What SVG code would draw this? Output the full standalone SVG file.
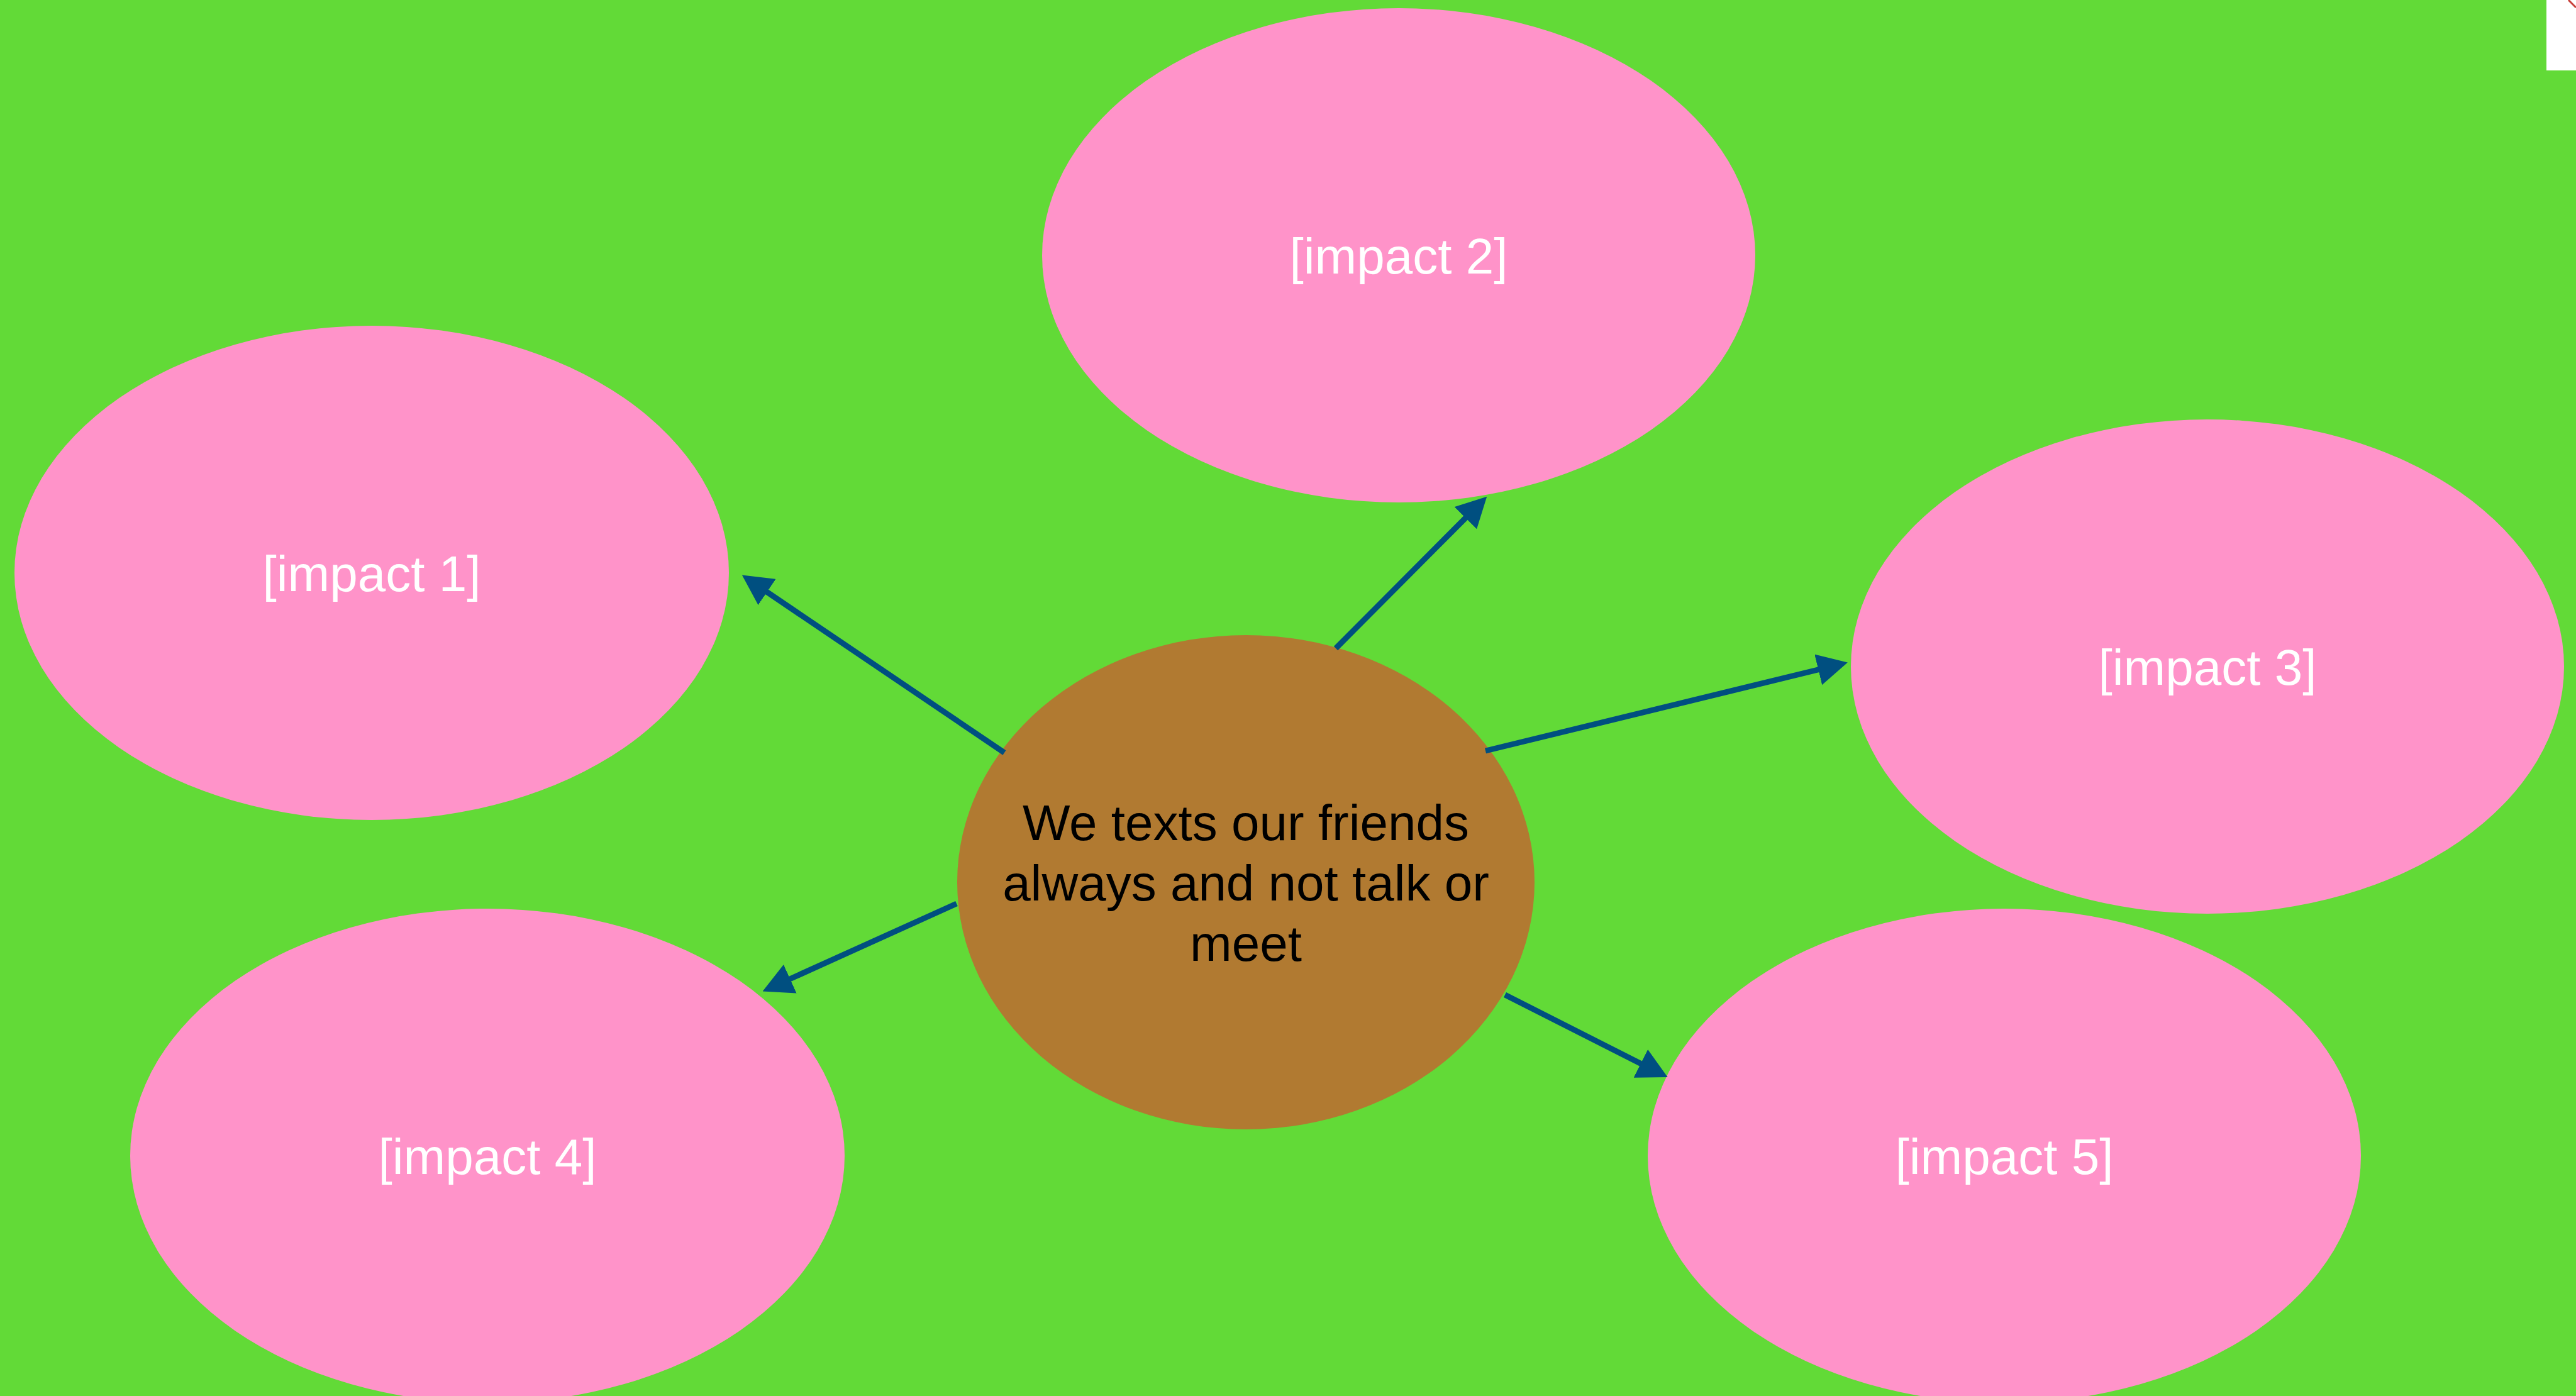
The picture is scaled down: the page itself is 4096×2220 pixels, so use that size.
<svg xmlns="http://www.w3.org/2000/svg" width="4096" height="2220" viewBox="0 0 4096 2220">
  <defs>
    <style>
      .impact { fill: #FF93C9; }
      .core { fill: #B17A31; }
      .lbl { font-family: "Liberation Sans", Arial, Helvetica, sans-serif; font-size: 80px; text-anchor: middle; }
      .white { fill: #FFFFFF; }
      .black { fill: #000000; }
      .conn { stroke: #004F80; stroke-width: 9; fill: none; marker-end: url(#arrow); }
    </style>
    <marker id="arrow" markerUnits="userSpaceOnUse" viewBox="0 0 48 50" markerWidth="48" markerHeight="50" refX="8" refY="25" orient="auto">
      <path d="M0,0 L48,25 L0,50 z" fill="#004F80"/>
    </marker>
  </defs>
  <rect x="0" y="0" width="4096" height="2220" fill="#62DA37"/>
  <rect x="4049" y="0" width="47" height="112" fill="#FFFFFF"/>
  <line x1="4084" y1="0" x2="4096" y2="12" stroke="#C8413C" stroke-width="3"/>

  <g id="impact2">
    <ellipse class="impact" cx="2224" cy="406" rx="567" ry="393"/>
    <text class="lbl white" x="2224" y="435">[impact 2]</text>
  </g>
  <g id="impact1">
    <ellipse class="impact" cx="591" cy="911" rx="568" ry="393"/>
    <text class="lbl white" x="591" y="940">[impact 1]</text>
  </g>
  <g id="impact3">
    <ellipse class="impact" cx="3510" cy="1060" rx="567" ry="393"/>
    <text class="lbl white" x="3510" y="1089">[impact 3]</text>
  </g>
  <g id="impact4">
    <ellipse class="impact" cx="775" cy="1838" rx="568" ry="393"/>
    <text class="lbl white" x="775" y="1867">[impact 4]</text>
  </g>
  <g id="impact5">
    <ellipse class="impact" cx="3187" cy="1838" rx="567" ry="393"/>
    <text class="lbl white" x="3187" y="1867">[impact 5]</text>
  </g>
  <g id="center">
    <ellipse class="core" cx="1981" cy="1403" rx="459" ry="393"/>
    <text class="lbl black" x="1981" y="1336">We texts our friends</text>
    <text class="lbl black" x="1981" y="1432">always and not talk or</text>
    <text class="lbl black" x="1981" y="1528">meet</text>
  </g>

  <g id="connectors">
    <line class="conn" x1="1597" y1="1197" x2="1213" y2="937"/>
    <line class="conn" x1="2124" y1="1031" x2="2336" y2="818"/>
    <line class="conn" x1="2362" y1="1194" x2="2899" y2="1063"/>
    <line class="conn" x1="1521" y1="1437" x2="1249" y2="1560"/>
    <line class="conn" x1="2393" y1="1582" x2="2616" y2="1695"/>
  </g>
</svg>
